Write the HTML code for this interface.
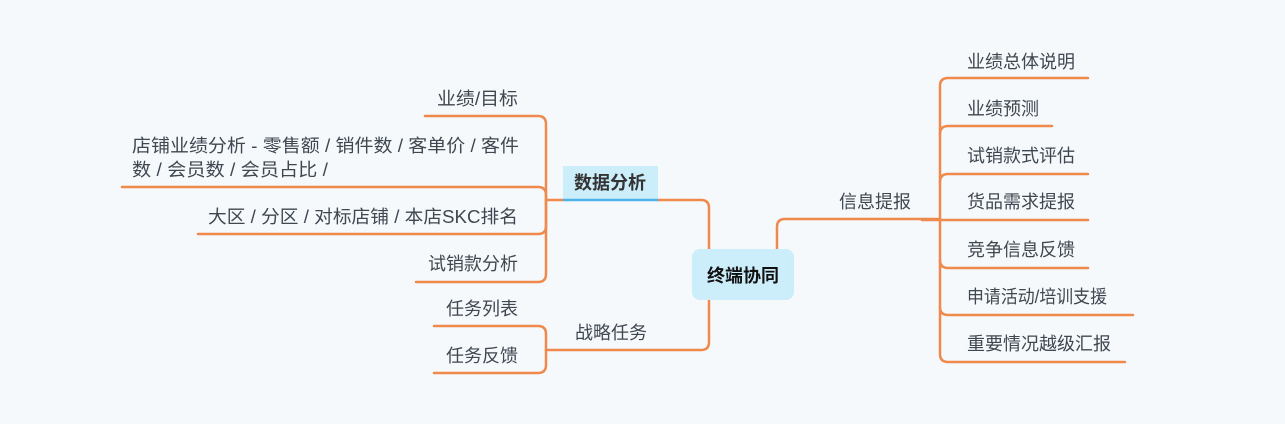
<!DOCTYPE html>
<html><head><meta charset="utf-8"><style>
html,body{margin:0;padding:0;background:#f5f9fc;}
svg{display:block;}
text{font-family:"Liberation Sans","Noto Sans CJK SC",sans-serif;font-size:18px;fill:#3f4750;}
</style></head><body>
<svg width="1285" height="424" viewBox="0 0 1285 424" xmlns="http://www.w3.org/2000/svg">
<rect width="1285" height="424" fill="#f5f9fc"/>
<g fill="none" stroke="#ef8a4c" stroke-width="2.5" stroke-linecap="round">
<path d="M658 200 H701 Q709 200 709 208 V249"/>
<path d="M709 300 V342 Q709 350 701 350 H546"/>
<path d="M777 249 V227 Q777 219 785 219 H940"/>
<path d="M546 200 H563"/>
<path d="M425 116 H538 Q546 116 546 124 V274 Q546 282 538 282 H416"/>
<path d="M122 187 H538 Q546 187 546 195 V226 Q546 234 538 234 H198"/>
<path d="M434 326 H538 Q546 326 546 334 V365 Q546 373 538 373 H434"/>
<path d="M1088 78 H948 Q940 78 940 86 V354 Q940 362 948 362 H1125"/>
<path d="M940 134 Q940 126 948 126 H1052"/>
<path d="M940 182 Q940 174 948 174 H1088"/>
<path d="M940 220 H1088"/>
<path d="M940 260 Q940 268 948 268 H1088"/>
<path d="M940 307 Q940 315 948 315 H1133"/>
<path d="M922 220 H940"/>
</g>
<rect x="692" y="249" width="102" height="51" rx="8" fill="#ccedfa"/>
<text x="743" y="282" text-anchor="middle" style="font-weight:bold;fill:#111;font-size:18px">终端协同</text>
<rect x="563" y="166" width="95" height="34" fill="#ccedfa"/>
<line x1="563" y1="200" x2="658" y2="200" stroke="#4db3ea" stroke-width="2.5"/>
<text x="610" y="189" text-anchor="middle" style="font-weight:bold;fill:#333">数据分析</text>
<text x="575" y="339">战略任务</text>
<text x="839" y="208">信息提报</text>
<text x="437" y="105" textLength="81" lengthAdjust="spacingAndGlyphs">业绩/目标</text>
<text x="132" y="152" textLength="387" lengthAdjust="spacingAndGlyphs">店铺业绩分析 - 零售额 / 销件数 / 客单价 / 客件</text>
<text x="132" y="176" textLength="196" lengthAdjust="spacingAndGlyphs">数 / 会员数 / 会员占比 /</text>
<text x="208" y="223" textLength="310" lengthAdjust="spacingAndGlyphs">大区 / 分区 / 对标店铺 / 本店SKC排名</text>
<text x="518" y="270" text-anchor="end">试销款分析</text>
<text x="518" y="315" text-anchor="end">任务列表</text>
<text x="518" y="362" text-anchor="end">任务反馈</text>
<text x="967" y="68">业绩总体说明</text>
<text x="967" y="115">业绩预测</text>
<text x="967" y="162">试销款式评估</text>
<text x="967" y="208">货品需求提报</text>
<text x="967" y="256">竞争信息反馈</text>
<text x="967" y="303" textLength="140" lengthAdjust="spacingAndGlyphs">申请活动/培训支援</text>
<text x="967" y="350">重要情况越级汇报</text>
</svg>
</body></html>
